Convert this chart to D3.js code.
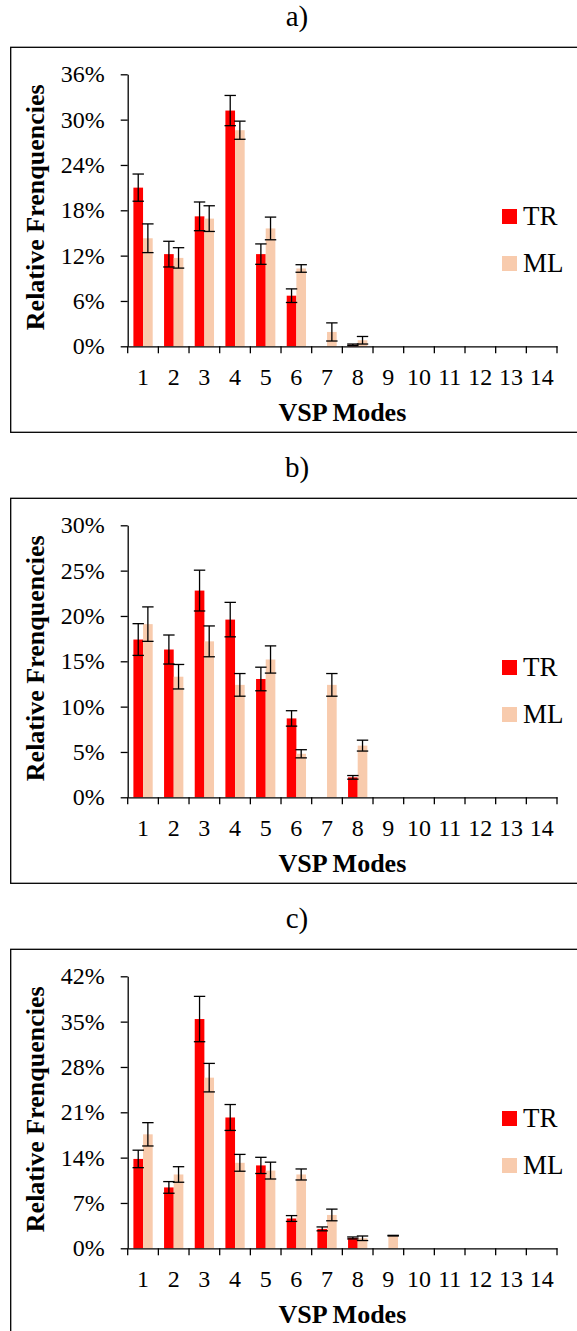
<!DOCTYPE html>
<html>
<head>
<meta charset="utf-8">
<script src="https://cdn.jsdelivr.net/npm/d3@7"></script>
<style>
  body { margin: 0; background: #fff; }
  svg text { font-family: "Liberation Serif", "Times New Roman", serif; }
</style>
</head>
<body>
<svg id="chart" width="577" height="1331"></svg>
<script>
'use strict';

// VSP modes on the x axis
var modes = ["1","2","3","4","5","6","7","8","9","10","11","12","13","14"];
var seriesNames = ["TR", "ML"];
var panelTitles = ["a)", "b)", "c)"];

// panel a)
var trA    = [21.0, 12.2, 17.2, 31.2, 12.2, 6.7, 0, 0.2, 0, 0, 0, 0, 0, 0];
var trAErr = [1.8, 1.7, 1.9, 2.0, 1.35, 0.9, 0, 0.1, 0, 0, 0, 0, 0, 0];
var mlA    = [14.3, 11.7, 16.9, 28.6, 15.6, 10.3, 1.9, 0.8, 0, 0, 0, 0, 0, 0];
var mlAErr = [1.9, 1.35, 1.7, 1.2, 1.5, 0.5, 1.2, 0.5, 0, 0, 0, 0, 0, 0];
var ticksA = [0, 6, 12, 18, 24, 30, 36];

// panel b)
var trB    = [17.4, 16.3, 22.8, 19.6, 13.05, 8.7, 0, 2.2, 0, 0, 0, 0, 0, 0];
var trBErr = [1.75, 1.6, 2.25, 1.9, 1.3, 0.85, 0, 0.2, 0, 0, 0, 0, 0, 0];
var mlB    = [19.1, 13.3, 17.2, 12.4, 15.2, 4.8, 12.4, 5.7, 0, 0, 0, 0, 0, 0];
var mlBErr = [1.9, 1.35, 1.7, 1.25, 1.5, 0.45, 1.25, 0.6, 0, 0, 0, 0, 0, 0];
var ticksB = [0, 5, 10, 15, 20, 25, 30];

// panel c)
var trC    = [13.8, 9.4, 35.4, 20.2, 12.8, 4.6, 3.0, 1.6, 0, 0, 0, 0, 0, 0];
var trCErr = [1.35, 0.9, 3.5, 2.0, 1.25, 0.45, 0.3, 0.15, 0, 0, 0, 0, 0, 0];
var mlC    = [17.6, 11.4, 26.35, 13.2, 12.0, 11.4, 5.15, 1.55, 1.95, 0, 0, 0, 0, 0];
var mlCErr = [1.8, 1.2, 2.2, 1.3, 1.3, 0.85, 0.9, 0.35, 0.05, 0, 0, 0, 0, 0];
var ticksC = [0, 7, 14, 21, 28, 35, 42];

var panels = [
    {title: panelTitles[0], tr: trA, trErr: trAErr, ml: mlA, mlErr: mlAErr, ticks: ticksA},
    {title: panelTitles[1], tr: trB, trErr: trBErr, ml: mlB, mlErr: mlBErr, ticks: ticksB},
    {title: panelTitles[2], tr: trC, trErr: trCErr, ml: mlC, mlErr: mlCErr, ticks: ticksC}
];

var colors = {TR: "#ff0000", ML: "#f8cbad"};
var serif = "'Liberation Serif', 'Times New Roman', serif";

var svg = d3.select("#chart");

var firstTop = 47.3,
    panelStep = 451,
    plotLeft = 127.7,
    plotRight = 557,
    plotTopOff = 27,
    plotZeroOff = 299;

var x = d3.scaleBand().domain(modes).range([plotLeft, plotRight]);
var xSub = d3.scaleBand().domain(seriesNames).range([5.7, 25]);

panels.forEach(function(p, i) {
    var top = firstTop + i * panelStep;
    var g = svg.append("g");

    // panel title
    g.append("text")
        .attr("x", 297)
        .attr("y", top - 21)
        .attr("text-anchor", "middle")
        .style("font-size", "29px")
        .text(p.title);

    // frame
    g.append("rect")
        .attr("x", 10.7)
        .attr("y", top)
        .attr("width", 600)
        .attr("height", 385)
        .attr("fill", "none")
        .attr("stroke", "#000")
        .attr("stroke-width", 1.3);

    var y = d3.scaleLinear()
        .domain([0, d3.max(p.ticks)])
        .range([top + plotZeroOff, top + plotTopOff]);

    var rows = modes.map(function(m, k) {
        return [
            {mode: m, s: "TR", v: p.tr[k], e: p.trErr[k]},
            {mode: m, s: "ML", v: p.ml[k], e: p.mlErr[k]}
        ];
    });
    var flat = d3.merge(rows).filter(function(d) { return d.v > 0; });

    // bars
    g.selectAll("rect.bar")
        .data(flat)
        .enter()
        .append("rect")
        .attr("class", "bar")
        .attr("x", function(d) { return x(d.mode) + xSub(d.s); })
        .attr("width", xSub.bandwidth())
        .attr("y", function(d) { return y(d.v); })
        .attr("height", function(d) { return y(0) - y(d.v); })
        .attr("fill", function(d) { return colors[d.s]; });

    // error bars
    var eb = g.selectAll("g.err")
        .data(flat.filter(function(d) { return d.e > 0; }))
        .enter()
        .append("g")
        .attr("class", "err")
        .attr("stroke", "#000")
        .attr("stroke-width", 1.3);
    var cx = function(d) { return x(d.mode) + xSub(d.s) + xSub.bandwidth() / 2; };
    eb.append("line")
        .attr("x1", cx).attr("x2", cx)
        .attr("y1", function(d) { return y(d.v + d.e); })
        .attr("y2", function(d) { return y(Math.max(0, d.v - d.e)); });
    eb.append("line")
        .attr("x1", function(d) { return cx(d) - 5.7; })
        .attr("x2", function(d) { return cx(d) + 5.7; })
        .attr("y1", function(d) { return y(d.v + d.e); })
        .attr("y2", function(d) { return y(d.v + d.e); });
    eb.append("line")
        .attr("x1", function(d) { return cx(d) - 5.7; })
        .attr("x2", function(d) { return cx(d) + 5.7; })
        .attr("y1", function(d) { return y(Math.max(0, d.v - d.e)); })
        .attr("y2", function(d) { return y(Math.max(0, d.v - d.e)); });

    // y axis
    var yAxis = g.append("g")
        .attr("transform", "translate(" + plotLeft + ",0)")
        .call(d3.axisLeft(y)
            .tickValues(p.ticks)
            .tickFormat(function(d) { return d + "%"; })
            .tickSize(7)
            .tickSizeOuter(0)
            .tickPadding(16));
    yAxis.attr("font-family", serif);
    yAxis.selectAll("text").style("font-size", "24px").attr("fill", "#000");
    yAxis.selectAll("line, path").attr("stroke", "#000").attr("stroke-width", 1.3);

    // x axis: labels at band centres, ticks at band edges
    var xAxis = g.append("g")
        .attr("transform", "translate(0," + y(0) + ")")
        .call(d3.axisBottom(x).tickSize(0).tickSizeOuter(0).tickPadding(22));
    xAxis.attr("font-family", serif);
    xAxis.selectAll("text").style("font-size", "24px").attr("fill", "#000");
    xAxis.select("path").attr("stroke", "#000").attr("stroke-width", 1.3);

    var edges = modes.map(function(m) { return x(m); }).concat([x.range()[1]]);
    g.selectAll("line.xtick")
        .data(edges)
        .enter()
        .append("line")
        .attr("class", "xtick")
        .attr("x1", function(d) { return d; })
        .attr("x2", function(d) { return d; })
        .attr("y1", y(0))
        .attr("y2", y(0) + 7)
        .attr("stroke", "#000")
        .attr("stroke-width", 1.3);

    // axis titles
    g.append("text")
        .attr("x", (plotLeft + plotRight) / 2)
        .attr("y", top + 374)
        .attr("text-anchor", "middle")
        .style("font-size", "26px")
        .style("font-weight", "bold")
        .text("VSP Modes");

    g.append("text")
        .attr("transform", "translate(44," + (top + 160) + ") rotate(-90)")
        .attr("text-anchor", "middle")
        .style("font-size", "26px")
        .style("font-weight", "bold")
        .text("Relative Frenquencies");

    // legend
    var leg = g.selectAll("g.leg")
        .data(seriesNames)
        .enter()
        .append("g")
        .attr("class", "leg")
        .attr("transform", function(d, k) {
            return "translate(502," + (top + 161.7 + k * 47) + ")";
        });
    leg.append("rect")
        .attr("width", 15)
        .attr("height", 15)
        .attr("fill", function(d) { return colors[d]; });
    leg.append("text")
        .attr("x", 21)
        .attr("y", 16)
        .style("font-size", "27px")
        .text(function(d) { return d; });
});
</script>
</body>
</html>
